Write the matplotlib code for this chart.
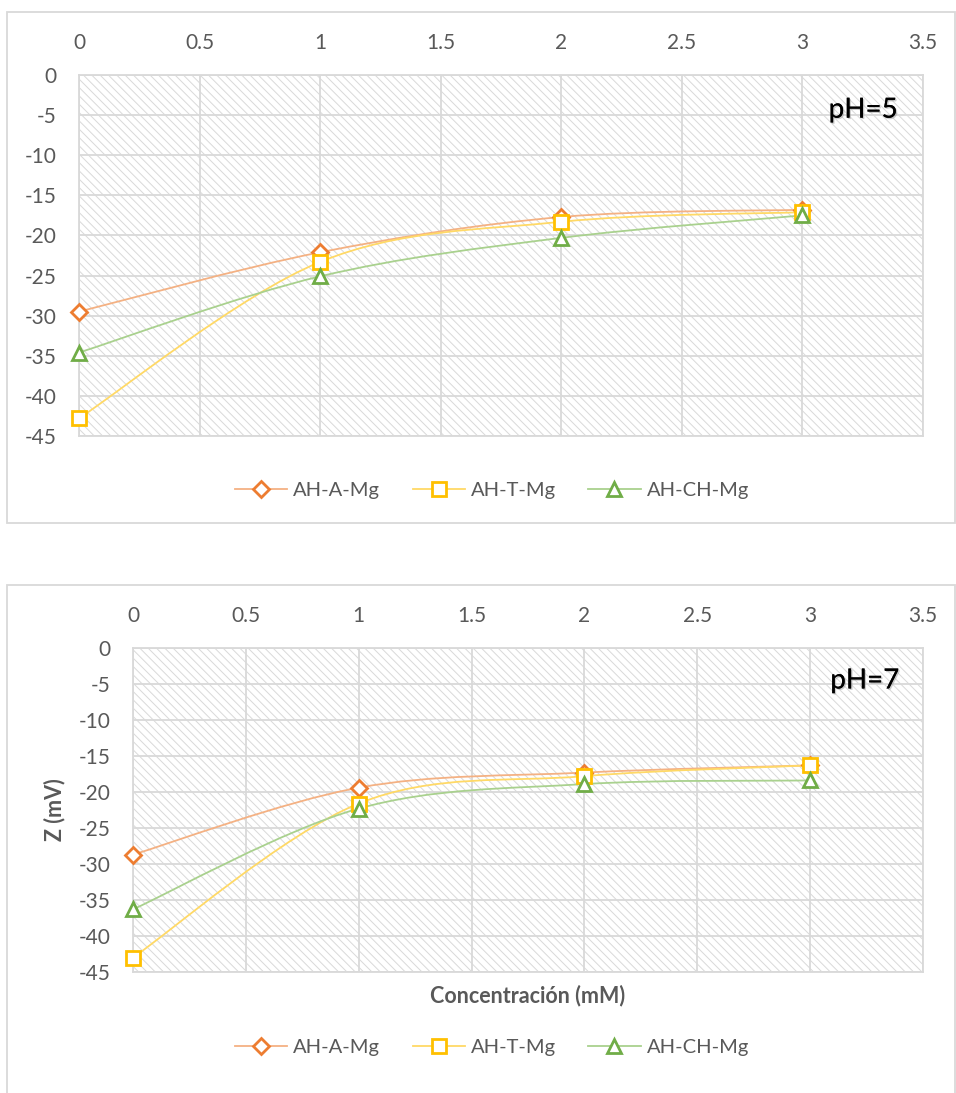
import matplotlib.pyplot as plt
import matplotlib.patheffects as pe
from matplotlib.path import Path
from matplotlib.patches import PathPatch, Rectangle
from matplotlib.lines import Line2D

# Concentración de Mg (mM)
conc = [0, 1, 2, 3]

# Potencial Z (mV) a pH=5
ph5_a = [-29.5, -22.1, -17.7, -16.8]
ph5_t = [-42.8, -23.3, -18.3, -17.1]
ph5_ch = [-34.6, -25.1, -20.3, -17.5]

# Potencial Z (mV) a pH=7
ph7_a = [-28.7, -19.4, -17.3, -16.3]
ph7_t = [-43.0, -21.6, -17.8, -16.3]
ph7_ch = [-36.3, -22.3, -18.9, -18.4]

series = ["AH-A-Mg", "AH-T-Mg", "AH-CH-Mg"]
markers = ["D", "s", "^"]
msizes = [8, 10.5, 10.5]
edge_cols = ["#ED7D31", "#FFC000", "#70AD47"]
line_cols = ["#F4B183", "#FFD966", "#A9D18E"]

W, H = 956, 1093
GRID = "#D9D9D9"
TXT = "#595959"

plt.rcParams["font.family"] = ["Lato", "DejaVu Sans"]
plt.rcParams["axes.unicode_minus"] = False
plt.rcParams["hatch.linewidth"] = 0.7


def smooth_path(xs, ys):
    # curva suavizada (Bezier con tangentes Catmull-Rom)
    pts = list(zip(xs, ys))
    n = len(pts)
    verts = [pts[0]]
    codes = [Path.MOVETO]
    for i in range(n - 1):
        p0 = pts[max(i - 1, 0)]
        p1 = pts[i]
        p2 = pts[i + 1]
        p3 = pts[min(i + 2, n - 1)]
        c1 = (p1[0] + (p2[0] - p0[0]) / 6, p1[1] + (p2[1] - p0[1]) / 6)
        c2 = (p2[0] - (p3[0] - p1[0]) / 6, p2[1] - (p3[1] - p1[1]) / 6)
        verts += [c1, c2, p2]
        codes += [Path.CURVE4] * 3
    return Path(verts, codes)


def box(x0, y0, x1, y1):
    fig.add_artist(Rectangle((x0 / W, 1 - y1 / H), (x1 - x0) / W, (y1 - y0) / H,
                             transform=fig.transFigure, fill=False,
                             edgecolor=GRID, linewidth=1.3))


def panel(rect, data, label, legend_y, titles=False):
    l, t, r, b = rect
    ax = fig.add_axes([l / W, 1 - b / H, (r - l) / W, (b - t) / H])
    ax.set_xlim(0, 3.5)
    ax.set_ylim(-45, 0)
    ax.add_patch(Rectangle((0, 0), 1, 1, transform=ax.transAxes, facecolor="white",
                           edgecolor=GRID, hatch="\\\\\\\\", linewidth=0, zorder=0))
    ax.set_xticks([0, 0.5, 1, 1.5, 2, 2.5, 3, 3.5])
    ax.set_xticklabels(["0", "0.5", "1", "1.5", "2", "2.5", "3", "3.5"])
    ax.set_yticks(range(0, -50, -5))
    ax.xaxis.tick_top()
    ax.tick_params(length=0, labelsize=15, labelcolor=TXT, pad=16)
    ax.grid(True, color=GRID, linewidth=1.3)
    ax.set_axisbelow(True)
    for s in ax.spines.values():
        s.set_color(GRID)
        s.set_linewidth(1.3)

    handles = []
    for ys, name, m, ms, ec, lc in zip(data, series, markers, msizes, edge_cols, line_cols):
        ax.add_patch(PathPatch(smooth_path(conc, ys), fill=False, edgecolor=lc,
                               linewidth=1.3, zorder=3))
        ax.plot(conc, ys, linestyle="none", marker=m, markersize=ms, markerfacecolor="white",
                markeredgecolor=ec, markeredgewidth=2, zorder=4, clip_on=False)
        handles.append(Line2D([], [], color=lc, linewidth=1.3, marker=m, markersize=ms,
                              markerfacecolor="white", markeredgecolor=ec,
                              markeredgewidth=2, label=name))

    ax.text(0.97, 0.94, label, transform=ax.transAxes, ha="right", va="top",
            fontsize=20, color="black",
            path_effects=[pe.withSimplePatchShadow(offset=(1, -1), shadow_rgbFace="#9A9A9A",
                                                   alpha=0.5), pe.Normal()])

    if titles:
        ax.set_xlabel("Concentración (mM)", fontsize=15.5, fontweight="bold", color=TXT,
                      labelpad=9)
        ax.set_ylabel("Z (mV)", fontsize=15.5, fontweight="bold", color=TXT, labelpad=10)

    fig.legend(handles=handles, loc="center", bbox_to_anchor=(492 / W, 1 - legend_y / H),
               ncol=3, frameon=False, fontsize=14.5, labelcolor=TXT, handlelength=2.6,
               handletextpad=0.3, columnspacing=1.6)
    return ax


fig = plt.figure(figsize=(W / 100, H / 100), dpi=100)

box(7, 12, 955, 523)
box(7, 585, 955, 1100)

panel((79, 75, 923, 436), [ph5_a, ph5_t, ph5_ch], "pH=5", 490)
panel((133, 648, 923, 972), [ph7_a, ph7_t, ph7_ch], "pH=7", 1047, titles=True)

fig.savefig("out.png", dpi=100)
